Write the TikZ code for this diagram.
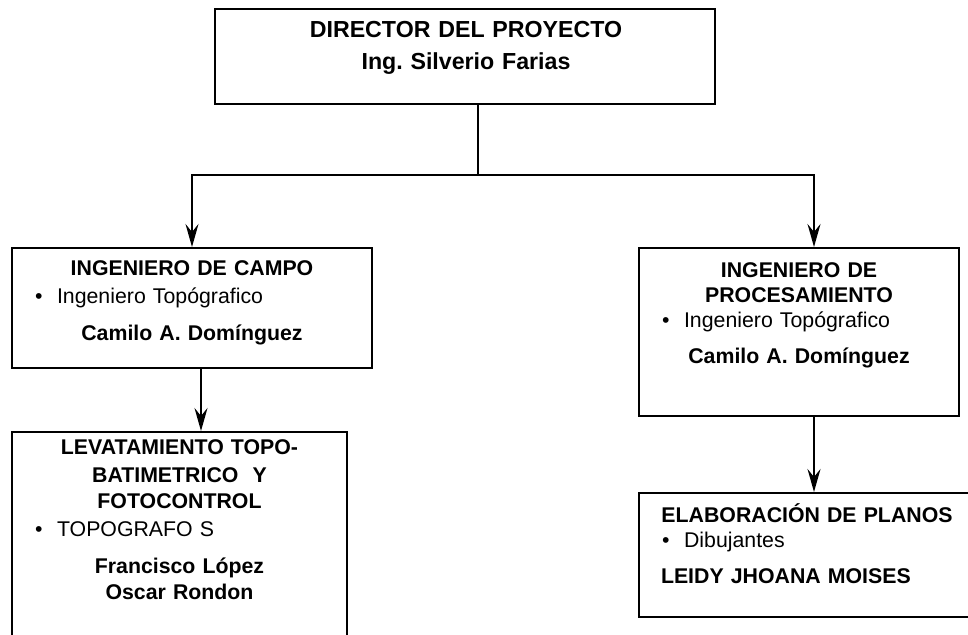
\documentclass[tikz,border=0pt]{standalone}
\usepackage{fontspec}
\setmainfont{Liberation Sans}
\usetikzlibrary{arrows.meta}
\frenchspacing

\newcommand{\itemline}[1]{\makebox[\linewidth][l]{\hspace*{11.5pt}\textbullet\hspace*{7.3pt}#1}}
\newcommand{\flushline}[1]{\makebox[\linewidth][l]{\hspace*{11pt}#1}}

\tikzset{
  box/.style = {draw, line width=1pt, rectangle, inner sep=0pt},
  label text/.style = {inner sep=0pt, anchor=base, align=center,
    font=\fontsize{10.65}{13.5}\selectfont},
  link/.style = {line width=0.9pt},
  arrow/.style = {link, -{Stealth[length=11.5pt, width=6.5pt, inset=4pt]}}
}

\begin{document}
\begin{tikzpicture}[x=0.5pt, y=-0.5pt]
  \useasboundingbox (0,0) rectangle (968,635);
  \clip (0,0) rectangle (968,635);

  % boxes
  \node [box, minimum width=250pt, minimum height=47.5pt] (dir) at (465,56.5) {};
  \node [box, minimum width=180pt, minimum height=60pt] (campo) at (192,308) {};
  \node [box, minimum width=160pt, minimum height=84pt] (proc) at (799,332) {};
  \node [box, minimum width=167.5pt, minimum height=119pt] (levant) at (179.5,551) {};
  \node [box, minimum width=175.5pt, minimum height=62pt] (planos) at (814.5,555) {};

  % texts
  \node [label text, text width=250pt, font=\fontsize{11.6}{16}\selectfont\bfseries] (dir text) at (466,38)
    {DIRECTOR DEL PROYECTO\\ Ing. Silverio Farias};
  \node [label text, text width=180pt, font=\fontsize{10.65}{14}\selectfont] (campo text) at (192,276)
    {\textbf{INGENIERO DE CAMPO}\\ \itemline{Ingeniero Topógrafico}\\[4.5pt] \textbf{Camilo A. Domínguez}};
  \node [label text, text width=160pt, font=\fontsize{10.65}{12.5}\selectfont] (proc text) at (799,278)
    {\textbf{INGENIERO DE}\\ \textbf{PROCESAMIENTO}\\ \itemline{Ingeniero Topógrafico}\\[5.5pt] \textbf{Camilo A. Domínguez}};
  \node [label text, text width=167.5pt] (levant text) at (179.5,455)
    {\textbf{LEVATAMIENTO TOPO-}\\ \textbf{BATIMETRICO\ \ Y}\hspace*{16pt}\\ \textbf{FOTOCONTROL}\\
     \itemline{TOPOGRAFO S}\\[5pt] \textbf{Francisco López}\\ \textbf{Oscar Rondon}};
  \node [label text, text width=168pt, font=\fontsize{10.65}{13}\selectfont] (planos text) at (807,522)
    {\textbf{ELABORACIÓN DE PLANOS}\\ \itemline{Dibujantes}\\[4.5pt] \flushline{\textbf{LEIDY JHOANA MOISES}}};

  % connectors
  \coordinate (split) at (478,175);
  \coordinate (right drop) at (814,175);
  \coordinate (left drop) at (201,368);

  \draw [link] (dir.south -| split) -- (split);
  \draw [arrow] (split) -| (campo.north);
  \draw [arrow] (split) -- (right drop) -- (proc.north -| right drop);
  \draw [arrow] (left drop) -- (levant.north -| left drop);
  \draw [arrow] (proc.south -| right drop) -- (planos.north -| right drop);
\end{tikzpicture}
\end{document}
